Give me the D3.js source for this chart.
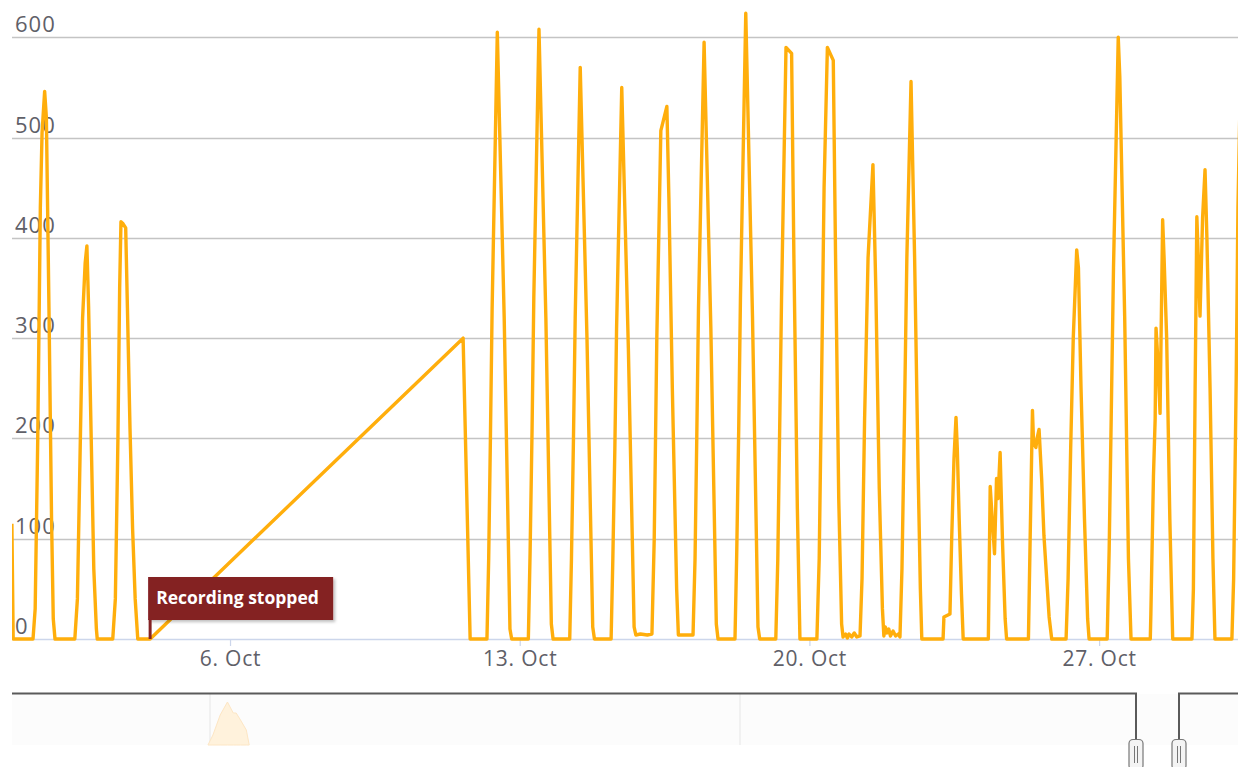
<!DOCTYPE html>
<html><head><meta charset="utf-8">
<script src="https://cdn.jsdelivr.net/npm/d3@7"></script>
<style>html,body{margin:0;padding:0;background:#fff;overflow:hidden}</style>
</head><body><svg id="c" width="1238" height="767"></svg>
<script>
// ---- data ----
const times = [
"09-30 17:30","09-30 18:15",
"10-01 05:45","10-01 07:00","10-01 08:30","10-01 10:00","10-01 11:00","10-01 12:30","10-01 13:30","10-01 15:00","10-01 16:30","10-01 17:30","10-01 18:30",
"10-02 06:00","10-02 07:30","10-02 09:00","10-02 10:30","10-02 12:00","10-02 13:00","10-02 14:00","10-02 15:30","10-02 17:00","10-02 18:30","10-02 19:00",
"10-03 04:00","10-03 05:30","10-03 07:00","10-03 08:00","10-03 08:45","10-03 10:00","10-03 11:30","10-03 12:30","10-03 14:00","10-03 15:30","10-03 17:00","10-03 18:30",
"10-04 01:40","10-11 15:10","10-11 19:15",
"10-12 05:00","10-12 06:00","10-12 07:00","10-12 08:00","10-12 11:00","10-12 15:00","10-12 18:20","10-12 19:20",
"10-13 05:00","10-13 06:00","10-13 07:10","10-13 08:10","10-13 11:10","10-13 15:10","10-13 18:20","10-13 19:20",
"10-14 05:00","10-14 06:00","10-14 07:10","10-14 08:10","10-14 11:05","10-14 15:00","10-14 18:20","10-14 19:20",
"10-15 05:00","10-15 06:00","10-15 07:10","10-15 08:10","10-15 11:10","10-15 15:00","10-15 18:20","10-15 19:20","10-15 22:00","10-16 02:00",
"10-16 04:40","10-16 06:00","10-16 07:30","10-16 09:50","10-16 11:00","10-16 13:20","10-16 14:30","10-16 16:30","10-16 19:00","10-16 20:00","10-17 04:30",
"10-17 05:40","10-17 06:40","10-17 07:40","10-17 10:55","10-17 14:50","10-17 18:00","10-17 19:00",
"10-18 04:50","10-18 05:50","10-18 07:00","10-18 08:00","10-18 11:05","10-18 15:00","10-18 18:10","10-18 19:10",
"10-19 04:30","10-19 05:40","10-19 06:40","10-19 07:50","10-19 10:25","10-19 13:40","10-19 15:00","10-19 17:00","10-19 18:30",
"10-20 04:20","10-20 05:40","10-20 07:00","10-20 08:30","10-20 10:25","10-20 13:50","10-20 15:10","10-20 17:00","10-20 18:40","10-20 19:30","10-20 21:00","10-20 22:00","10-20 23:00","10-21 00:30","10-21 02:00","10-21 03:30","10-21 05:20",
"10-21 06:30","10-21 08:00","10-21 10:00","10-21 12:50","10-21 14:30","10-21 16:30","10-21 18:20","10-21 19:10","10-21 20:00","10-21 21:00","10-21 22:00","10-21 23:00","10-22 00:30","10-22 02:00","10-22 03:30","10-22 04:30",
"10-22 05:40","10-22 07:00","10-22 08:30","10-22 10:55","10-22 13:00","10-22 15:00","10-22 16:20","10-22 17:10",
"10-23 05:30","10-23 06:00","10-23 09:30","10-23 10:30","10-23 11:50","10-23 13:00","10-23 13:45","10-23 14:50","10-23 16:10","10-23 17:10",
"10-24 07:45","10-24 08:50","10-24 10:00","10-24 11:20","10-24 12:30","10-24 13:20","10-24 14:35","10-24 16:00","10-24 17:30","10-24 18:20",
"10-25 07:00","10-25 08:00","10-25 09:20","10-25 10:00","10-25 11:20","10-25 12:00","10-25 13:10","10-25 14:40","10-25 16:00","10-25 19:00","10-25 20:30",
"10-26 04:50","10-26 06:00","10-26 07:30","10-26 09:00","10-26 11:00","10-26 12:00","10-26 13:30","10-26 15:30","10-26 17:20","10-26 18:10",
"10-27 04:40","10-27 05:50","10-27 07:00","10-27 08:20","10-27 11:05","10-27 12:00","10-27 14:50","10-27 17:00","10-27 18:30",
"10-28 05:40","10-28 06:00","10-28 07:30","10-28 08:30","10-28 09:00","10-28 10:00","10-28 11:20","10-28 12:50","10-28 13:40","10-28 15:10","10-28 17:00","10-28 18:40",
"10-29 05:50","10-29 06:40","10-29 07:40","10-29 08:40","10-29 09:30","10-29 10:30","10-29 12:00","10-29 13:25","10-29 14:30","10-29 16:20","10-29 18:00","10-29 19:10",
"10-30 05:00","10-30 06:00","10-30 07:30","10-30 08:30","10-30 10:00"
];
const watts = [
115,0,
0,30,200,430,505,546,520,330,120,20,0,
0,40,180,320,375,392,330,200,70,10,0,
0,40,200,350,416,414,410,330,210,110,40,0,
0,300,0,
0,80,200,330,605,320,10,0,
0,85,210,340,608,320,15,0,
0,80,200,320,570,300,12,0,
0,80,190,310,550,290,12,4,5,4,
5,100,300,507,515,531,440,250,50,4,4,
80,200,330,595,310,15,0,
0,85,210,340,624,320,12,0,
0,80,200,340,590,584,380,130,0,
0,80,250,450,590,577,380,140,15,2,5,1,5,2,6,2,3,
60,220,380,473,350,150,30,3,12,6,10,3,8,3,5,2,
70,210,380,556,380,170,50,0,
0,22,25,100,180,221,190,120,45,0,
0,152,120,85,160,140,186,95,20,0,
0,100,228,195,191,200,209,160,103,22,0,
0,60,190,300,388,370,250,120,20,0,
0,90,220,370,600,560,320,80,0,
0,25,162,220,310,280,225,418,380,300,120,0,
0,50,250,421,380,322,420,468,400,250,80,0,
0,60,260,430,560
];
const yTicks = [0, 100, 200, 300, 400, 500, 600];
const xTickDays = ["10-06 00:00", "10-13 00:00", "10-20 00:00", "10-27 00:00"];
const viewRange = ["09-30 17:34", "10-30 08:32"];
const flagTime = "10-04 01:40";
const flagText = "Recording stopped";
// navigator
const navRange = ["2017-08-17 15:00", "2019-12-09 23:00"];
const navYearLines = ["2018-01-01 00:00", "2019-01-01 00:00"];
const navTimes = ["2017-12-30 14:00","2018-01-03 00:00","2018-01-08 00:00","2018-01-13 00:00","2018-01-17 00:00","2018-01-19 00:00","2018-01-22 00:00","2018-01-26 00:00","2018-01-28 00:00"];
const navValues = [0, 10, 30, 43, 32, 32, 25, 15, 0];

// ---- drawing ----
const P = {left: 12, right: 1238, top: 37.3, bottom: 639};
const parseMD = s => d3.utcParse("%Y-%m-%d %H:%M")("2019-" + s);
const parseFull = d3.utcParse("%Y-%m-%d %H:%M");
const data = times.map((t, i) => ({t: parseMD(t), v: watts[i]}));

const svg = d3.select("#c");
const x = d3.scaleUtc().domain(viewRange.map(parseMD)).range([P.left, P.right]);
const y = d3.scaleLinear().domain([0, 600]).range([P.bottom, P.top]);

const font = "'Open Sans', 'Noto Sans', sans-serif";

// grid lines
svg.append("g").selectAll("line").data(yTicks.filter(v => v > 0)).join("line")
  .attr("x1", P.left).attr("x2", P.right)
  .attr("y1", d => Math.round(y(d)) + 0.5).attr("y2", d => Math.round(y(d)) + 0.5)
  .attr("stroke", "#c4c4c4").attr("stroke-width", 1.6);

// y labels
svg.append("g").selectAll("text").data(yTicks).join("text")
  .attr("x", 15).attr("y", d => y(d) - 5)
  .attr("font-family", font).attr("font-size", 22).attr("letter-spacing", 1)
  .attr("fill", "#5f6068").text(d => d);

// x axis
const xAxis = d3.axisBottom(x).tickValues(xTickDays.map(parseMD))
  .tickFormat(d3.utcFormat("%-d. %b")).tickSize(7).tickSizeOuter(0);
const gx = svg.append("g").attr("transform", `translate(0,${P.bottom})`).call(xAxis);
gx.select(".domain").attr("stroke", "#ccd6eb").attr("stroke-width", 1.5);
gx.selectAll(".tick line").attr("stroke", "#ccd6eb").attr("stroke-width", 1.2);
gx.selectAll(".tick text").attr("font-family", font).attr("font-size", 21).attr("letter-spacing", 0.8)
  .attr("fill", "#5f6068").attr("dy", "0.71em").attr("y", 12);

// series line
svg.append("clipPath").attr("id", "clip").append("rect")
  .attr("x", P.left).attr("y", 0).attr("width", P.right - P.left).attr("height", P.bottom + 5);
const line = d3.line().x(d => x(d.t)).y(d => y(d.v));
svg.append("path").datum(data).attr("clip-path", "url(#clip)")
  .attr("d", line).attr("fill", "none").attr("stroke", "#ffae0c")
  .attr("stroke-width", 3.4).attr("stroke-linejoin", "round");

// flag
const defs = svg.append("defs");
const f = defs.append("filter").attr("id", "sh").attr("x", "-10%").attr("y", "-20%").attr("width", "130%").attr("height", "160%");
f.append("feDropShadow").attr("dx", 2).attr("dy", 2).attr("stdDeviation", 1.5).attr("flood-color", "#000").attr("flood-opacity", 0.25);
const fx = x(parseMD(flagTime)), fy = y(0);
const fg = svg.append("g");
fg.append("rect").attr("x", fx - 2).attr("y", fy - 62).attr("width", 185).attr("height", 43)
  .attr("fill", "#842224").attr("filter", "url(#sh)");
fg.append("line").attr("x1", fx).attr("x2", fx).attr("y1", fy - 20).attr("y2", fy)
  .attr("stroke", "#842224").attr("stroke-width", 3);
fg.append("text").attr("x", fx + 6).attr("y", fy - 35)
  .attr("font-family", font).attr("font-weight", "bold").attr("font-size", 17.5)
  .attr("fill", "#fff").text(flagText);

// navigator
const nx = d3.scaleUtc().domain(navRange.map(parseFull)).range([P.left, P.right]);
const ny = d3.scaleLinear().domain([0, 50]).range([745, 695]);
svg.append("rect").attr("x", P.left).attr("y", 694).attr("width", P.right - P.left).attr("height", 51).attr("fill", "#fcfcfc");
svg.append("g").selectAll("line").data(navYearLines.map(parseFull)).join("line")
  .attr("x1", d => nx(d)).attr("x2", d => nx(d)).attr("y1", 694).attr("y2", 745)
  .attr("stroke", "#e6e6e6").attr("stroke-width", 1);
const navData = navTimes.map((t, i) => ({t: parseFull(t), v: navValues[i]}));
svg.append("path").datum(navData)
  .attr("d", d3.area().x(d => nx(d.t)).y0(ny(0)).y1(d => ny(d.v)))
  .attr("fill", "#fff2dc").attr("stroke", "#fde6c4").attr("stroke-width", 1);
const s0 = nx(x.domain()[0]), s1 = nx(x.domain()[1]);
svg.append("path")
  .attr("d", `M${P.left},693.5H${Math.round(s0)}V740M${Math.round(s1)},740V693.5H${P.right}`)
  .attr("fill", "none").attr("stroke", "#5a5a5a").attr("stroke-width", 2);
[s0, s1].forEach(sx => {
  const hx = Math.round(sx);
  const g = svg.append("g");
  g.append("rect").attr("x", hx - 7).attr("y", 739.5).attr("width", 14).attr("height", 30).attr("rx", 4)
    .attr("fill", "#f4f4f4").attr("stroke", "#777").attr("stroke-width", 1.2);
  g.append("line").attr("x1", hx - 1.5).attr("x2", hx - 1.5).attr("y1", 746).attr("y2", 763).attr("stroke", "#777");
  g.append("line").attr("x1", hx + 1.5).attr("x2", hx + 1.5).attr("y1", 746).attr("y2", 763).attr("stroke", "#777");
});
</script></body></html>
